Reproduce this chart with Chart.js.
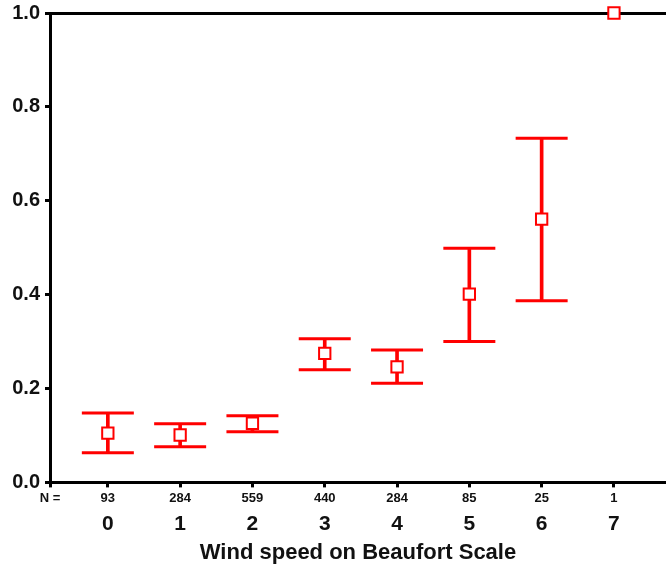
<!DOCTYPE html>
<html>
<head>
<meta charset="utf-8">
<script src="https://cdn.jsdelivr.net/npm/chart.js@4/dist/chart.umd.min.js"></script>
<style>
  html, body { margin: 0; padding: 0; background: #fff; }
  #wrap { width: 666px; height: 571px; }
</style>
</head>
<body>
<div id="wrap"><canvas id="chart" width="666" height="571"></canvas></div>
<script>
// Beaufort wind speed vs proportion, means with error bars

const categories = [0, 1, 2, 3, 4, 5, 6, 7];
const nCounts = [93, 284, 559, 440, 284, 85, 25, 1];
const means = [0.105, 0.101, 0.126, 0.275, 0.246, 0.401, 0.561, 1.0];
const upper = [0.148, 0.125, 0.142, 0.306, 0.282, 0.499, 0.733, null];
const lower = [0.063, 0.076, 0.108, 0.240, 0.211, 0.300, 0.387, null];
const yTicks = [0, 0.2, 0.4, 0.6, 0.8, 1.0];

const RED = "#ff0000";
const INK = "#111";
const FONT = "'Liberation Sans', Arial, sans-serif";
const X_MIN = -0.8, X_MAX = 7.72;

const pts = (arr) => categories.map((c, i) => ({ x: c, y: arr[i] }));

// no extra side padding from the tick labels, plot runs to the edge
function noPad(s) {
  s.paddingLeft = 0;
  s.paddingRight = 0;
  s.paddingTop = 0;
  s.paddingBottom = 0;
}

const datasets = [
  {
    type: "bar",
    label: "range",
    data: categories.map((c, i) => ({ x: c, y: lower[i] == null ? null : [lower[i], upper[i]] })),
    backgroundColor: RED,
    borderWidth: 0,
    barThickness: 3,
    order: 2,
  },
  {
    type: "line",
    label: "upper",
    data: pts(upper),
    showLine: false,
    pointStyle: "line",
    pointRadius: 26,
    pointBorderWidth: 3,
    borderColor: RED,
    order: 1,
    clip: false,
  },
  {
    type: "line",
    label: "lower",
    data: pts(lower),
    showLine: false,
    pointStyle: "line",
    pointRadius: 26,
    pointBorderWidth: 3,
    borderColor: RED,
    order: 1,
    clip: false,
  },
  {
    type: "line",
    label: "mean",
    data: pts(means),
    showLine: false,
    pointStyle: "rect",
    pointRadius: 8,
    pointBorderWidth: 2,
    borderColor: RED,
    pointBackgroundColor: "#fff",
    order: 0,
    clip: false,
  },
];

new Chart(document.getElementById("chart"), {
  data: { datasets },
  options: {
    responsive: false,
    animation: false,
    layout: { autoPadding: false, padding: { top: 13, right: 0, left: 0, bottom: 0 } },
    plugins: { legend: { display: false }, tooltip: { enabled: false } },
    scales: {
      x: {
        type: "linear",
        position: "bottom",
        min: X_MIN,
        max: X_MAX,
        offset: false,
        afterBuildTicks: (s) => { s.ticks = [{ value: X_MIN }].concat(categories.map((c) => ({ value: c }))); },
        afterFit: (s) => { s.height = 28; noPad(s); },
        ticks: {
          autoSkip: false,
          maxRotation: 0,
          padding: 3,
          color: INK,
          font: { family: FONT, size: 13, weight: "bold" },
          callback: (v) => (v === X_MIN ? "N =" : String(nCounts[categories.indexOf(v)])),
        },
        grid: { drawOnChartArea: false, drawTicks: true, tickLength: 5, tickColor: "#000", tickWidth: 3, offset: false },
        border: { display: true, color: "#000", width: 3 },
      },
      x2: {
        type: "linear",
        position: "bottom",
        min: X_MIN,
        max: X_MAX,
        offset: false,
        afterBuildTicks: (s) => { s.ticks = categories.map((c) => ({ value: c })); },
        afterFit: noPad,
        ticks: {
          autoSkip: false,
          maxRotation: 0,
          padding: 1,
          color: INK,
          font: { family: FONT, size: 21, weight: "bold" },
          callback: (v) => String(v),
        },
        grid: { display: false, drawTicks: false },
        border: { display: false },
        title: {
          display: true,
          text: "Wind speed on Beaufort Scale",
          color: INK,
          font: { family: FONT, size: 22, weight: "bold" },
          padding: { top: 2, bottom: 5 },
        },
      },
      y: {
        type: "linear",
        min: 0,
        max: 1.0,
        afterBuildTicks: (s) => { s.ticks = yTicks.map((v) => ({ value: v })); },
        afterFit: (s) => { s.width = 50; noPad(s); },
        ticks: {
          padding: 5,
          color: INK,
          font: { family: FONT, size: 20, weight: "bold" },
          callback: (v) => Number(v).toFixed(1),
        },
        grid: {
          color: (ctx) => (ctx.tick && ctx.tick.value === 1 ? "#000" : "rgba(0,0,0,0)"),
          lineWidth: 3,
          tickColor: "#000",
          tickWidth: 3,
          tickLength: 5,
        },
        border: { display: true, color: "#000", width: 3 },
      },
    },
  },
});
</script>
</body>
</html>
